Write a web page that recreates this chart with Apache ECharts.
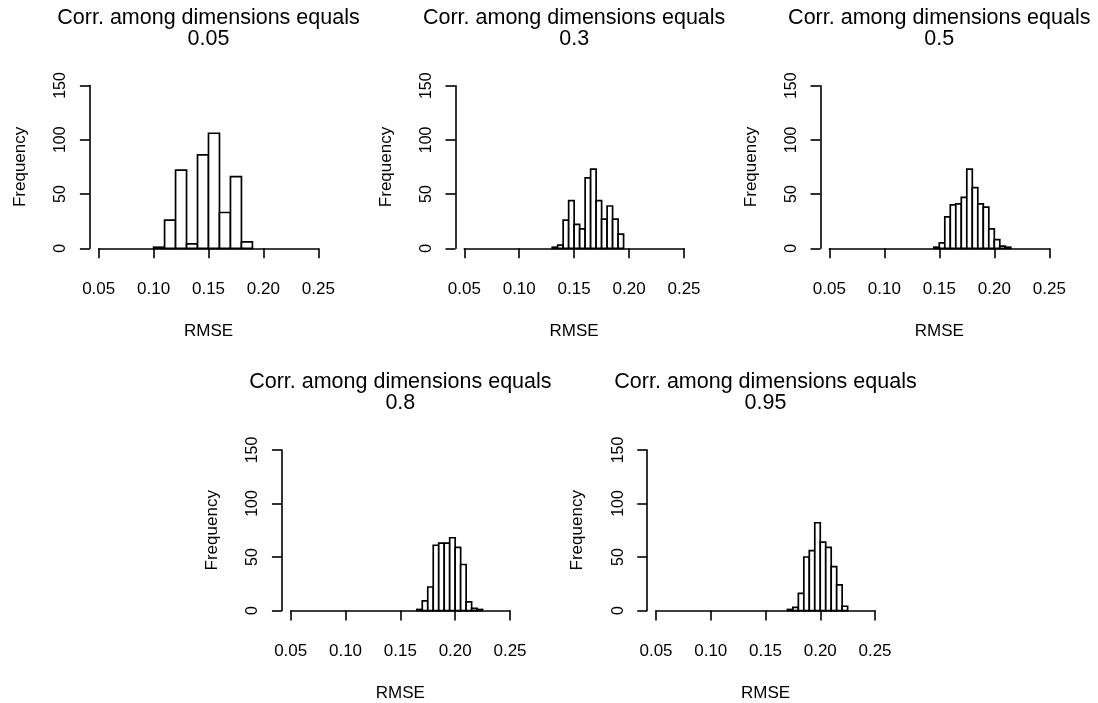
<!DOCTYPE html>
<html>
<head>
<meta charset="utf-8">
<script src="https://cdn.jsdelivr.net/npm/echarts@6/dist/echarts.min.js"></script>
<style>
html,body{margin:0;padding:0;background:#fff;}
#main{width:1098px;height:703px;}
</style>
</head>
<body>
<div id="main"></div>
<script>
// ---- data ----
var corrLabels = ['0.05', '0.3', '0.5', '0.8', '0.95'];
var binStarts = [0.10, 0.130, 0.145, 0.165, 0.170];
var binWidths = [0.01, 0.005, 0.005, 0.005, 0.005];
var counts005 = [1, 26, 72, 4, 86, 106, 33, 66, 6];
var counts03  = [1, 3, 26, 44, 22, 18, 65, 73, 44, 27, 39, 27, 13];
var counts05  = [1, 5, 29, 40, 41, 47, 73, 56, 41, 38, 18, 8, 2, 1];
var counts08  = [1, 9, 22, 61, 63, 63, 68, 59, 43, 8, 2, 1];
var counts095 = [1, 3, 16, 50, 56, 82, 64, 59, 41, 24, 4];
var xTicks = [0.05, 0.10, 0.15, 0.20, 0.25];
var yTicks = [0, 50, 100, 150];
var titleText = 'Corr. among dimensions equals';
var xName = 'RMSE';
var yName = 'Frequency';

var allCounts = [counts005, counts03, counts05, counts08, counts095];

// ---- layout (pixels) ----
var panels = [
  {left: 98.7, top: 85.5, width: 219.6, height: 162.8, titleY: 18},
  {left: 464.3, top: 85.7, width: 219.7, height: 162.6, titleY: 18},
  {left: 829.3, top: 85.7, width: 220.0, height: 162.6, titleY: 18},
  {left: 290.7, top: 450.0, width: 219.3, height: 161.7, titleY: 382},
  {left: 656.0, top: 450.0, width: 219.0, height: 161.7, titleY: 382}
];

var FONT = '"Liberation Sans", Arial, Helvetica, sans-serif';

function buildData(i) {
  var arr = [];
  for (var k = 0; k < allCounts[i].length; k++) {
    var s = binStarts[i] + k * binWidths[i];
    arr.push([s, s + binWidths[i], allCounts[i][k]]);
  }
  return arr;
}

var grids = [], xAxes = [], yAxes = [], series = [], graphics = [];
panels.forEach(function (p, i) {
  grids.push({left: p.left, top: p.top, width: p.width, height: p.height, containLabel: false});
  xAxes.push({
    gridIndex: i, type: 'value',
    min: xTicks[0], max: xTicks[xTicks.length - 1], interval: xTicks[1] - xTicks[0],
    offset: p.height * 0.04,
    axisLine: {show: true, lineStyle: {color: '#000', width: 1.6}},
    axisTick: {show: true, length: 10, lineStyle: {color: '#000', width: 1.6}},
    axisLabel: {show: true, margin: 26, color: '#000', fontSize: 17, fontFamily: FONT,
      formatter: function (v) { return v.toFixed(2); }},
    splitLine: {show: false},
    name: xName, nameLocation: 'middle', nameGap: 68,
    nameTextStyle: {color: '#000', fontSize: 17, fontFamily: FONT}
  });
  yAxes.push({
    gridIndex: i, type: 'value',
    min: yTicks[0], max: yTicks[yTicks.length - 1], interval: yTicks[1] - yTicks[0],
    offset: p.width * 0.04,
    axisLine: {show: true, lineStyle: {color: '#000', width: 1.6}},
    axisTick: {show: true, length: 10, lineStyle: {color: '#000', width: 1.6}},
    axisLabel: {show: true, rotate: 90, margin: 21, color: '#000', fontSize: 16, fontFamily: FONT},
    splitLine: {show: false},
    name: yName, nameLocation: 'middle', nameGap: 61,
    nameTextStyle: {color: '#000', fontSize: 17, fontFamily: FONT}
  });
  series.push({
    type: 'custom', xAxisIndex: i, yAxisIndex: i,
    data: buildData(i),
    encode: {x: [0, 1], y: 2},
    renderItem: function (params, api) {
      var a = api.coord([api.value(0), api.value(2)]);
      var b = api.coord([api.value(1), 0]);
      return {
        type: 'rect',
        shape: {x: a[0], y: a[1], width: b[0] - a[0], height: b[1] - a[1]},
        style: {fill: '#fff', stroke: '#000', lineWidth: 1.7}
      };
    },
    silent: true, animation: false
  });
  graphics.push({
    type: 'text', x: p.left + p.width / 2, y: p.titleY + 10.5,
    style: {text: titleText + '\n' + corrLabels[i], fill: '#000', font: 'normal 21.5px ' + FONT,
      textAlign: 'center', textVerticalAlign: 'middle', lineHeight: 21}
  });
});

var chart = echarts.init(document.getElementById('main'), null, {renderer: 'canvas'});
chart.setOption({
  animation: false,
  backgroundColor: '#fff',
  grid: grids, xAxis: xAxes, yAxis: yAxes, series: series,
  graphic: graphics
});
</script>
</body>
</html>
